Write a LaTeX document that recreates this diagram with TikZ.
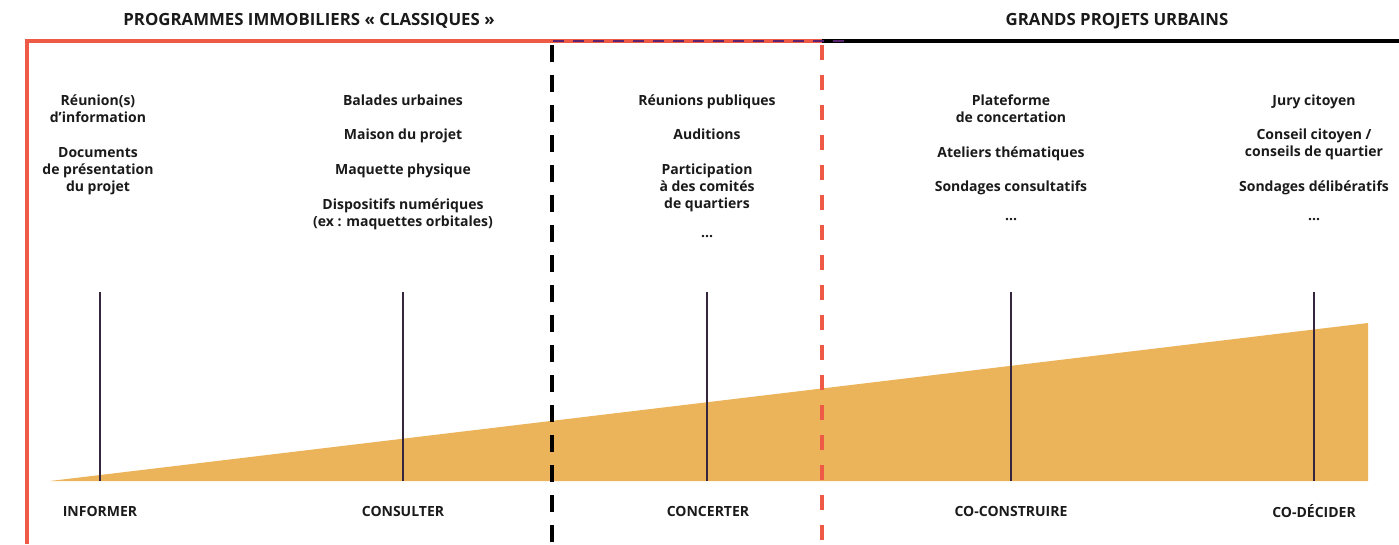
\documentclass[tikz,border=0pt]{standalone}
\usepackage{fontspec}
\setmainfont{Open Sans}[BoldFont={* Bold}]
\definecolor{redl}{HTML}{EE5A45}
\definecolor{orangef}{HTML}{EBB45B}
\definecolor{purpl}{HTML}{5B2270}
\definecolor{tick}{HTML}{35253D}
\definecolor{txt}{HTML}{1A1A1A}
\tikzset{
  item/.style={inner sep=0pt, align=center, anchor=north, text=txt, font=\bfseries\fontsize{14}{17}\selectfont},
  lvl/.style={inner sep=0pt, anchor=center, text=txt, font=\bfseries\fontsize{14}{17}\selectfont},
  head/.style={inner sep=0pt, anchor=center, text=txt, font=\bfseries\fontsize{16.8}{17}\selectfont},
  tickl/.style={draw=tick, line width=1.8pt},
}
\begin{document}
\begin{tikzpicture}[x=1pt,y=-1pt]
\useasboundingbox (0,0) rectangle (1399,544);
% triangle
\fill[orangef] (50,481) -- (1368,481) -- (1368,323) -- cycle;
% ticks
\foreach \n/\x in {a/100,b/403,c/707,d/1011,e/1314}{
  \coordinate (t\n) at (\x,292);
  \coordinate (b\n) at (\x,481);
  \draw[tickl] (t\n) -- (b\n);
}
% frame lines
\coordinate (rl0) at (27,544);
\coordinate (rl1) at (27,41);
\coordinate (rl2) at (822,41);
\coordinate (bk2) at (1399,41);
\draw[black, line width=4pt] (rl2) -- (bk2);
\draw[redl, line width=4pt, line join=miter] (rl0) -- (rl1) -- (rl2);
\coordinate (pd1) at (553,41);
\coordinate (pd2) at (848,41);
\draw[purpl, line width=2.2pt, dash pattern=on 11pt off 9pt] (pd1) -- (pd2);
\coordinate (vd1) at (552,45);
\coordinate (vd2) at (552,544);
\draw[black, line width=3.5pt, dash pattern=on 17pt off 13pt] (vd1) -- (vd2);
\coordinate (rd1) at (822,45);
\coordinate (rd2) at (822,544);
\draw[redl, line width=3.5pt, dash pattern=on 15pt off 15pt] (rd1) -- (rd2);
% headers
\node[head] (h1) at (309,21) {PROGRAMMES IMMOBILIERS « CLASSIQUES »};
\node[head] (h2) at (1117,21) {GRANDS PROJETS URBAINS};
% column 1
\node[item] (a1) at (98,95) {Réunion(s)\\d’information};
\node[item] (a2) at (98,147) {Documents\\de présentation\\du projet};
% column 2
\node[item] (b1) at (403,95) {Balades urbaines};
\node[item] (b2) at (403,129) {Maison du projet};
\node[item] (b3) at (403,164) {Maquette physique};
\node[item] (b4) at (403,199) {Dispositifs numériques\\(ex : maquettes orbitales)};
% column 3
\node[item] (c1) at (707,95) {Réunions publiques};
\node[item] (c2) at (707,129) {Auditions};
\node[item] (c3) at (707,164) {Participation\\à des comités\\de quartiers};
\node[item] (c4) at (707,235) {...};
% column 4
\node[item] (d1) at (1011,95) {Plateforme\\de concertation};
\node[item] (d2) at (1011,147) {Ateliers thématiques};
\node[item] (d3) at (1011,181) {Sondages consultatifs};
\node[item] (d4) at (1011,218) {...};
% column 5
\node[item] (e1) at (1314,95) {Jury citoyen};
\node[item] (e2) at (1314,129) {Conseil citoyen /\\conseils de quartier};
\node[item] (e3) at (1314,181) {Sondages délibératifs};
\node[item] (e4) at (1314,218) {...};
% levels
\node[lvl] (l1) at (100,511) {INFORMER};
\node[lvl] (l2) at (403,511) {CONSULTER};
\node[lvl] (l3) at (708,511) {CONCERTER};
\node[lvl] (l4) at (1011,511) {CO-CONSTRUIRE};
\node[lvl] (l5) at (1314,511) {CO-DÉCIDER};
\end{tikzpicture}
\end{document}
